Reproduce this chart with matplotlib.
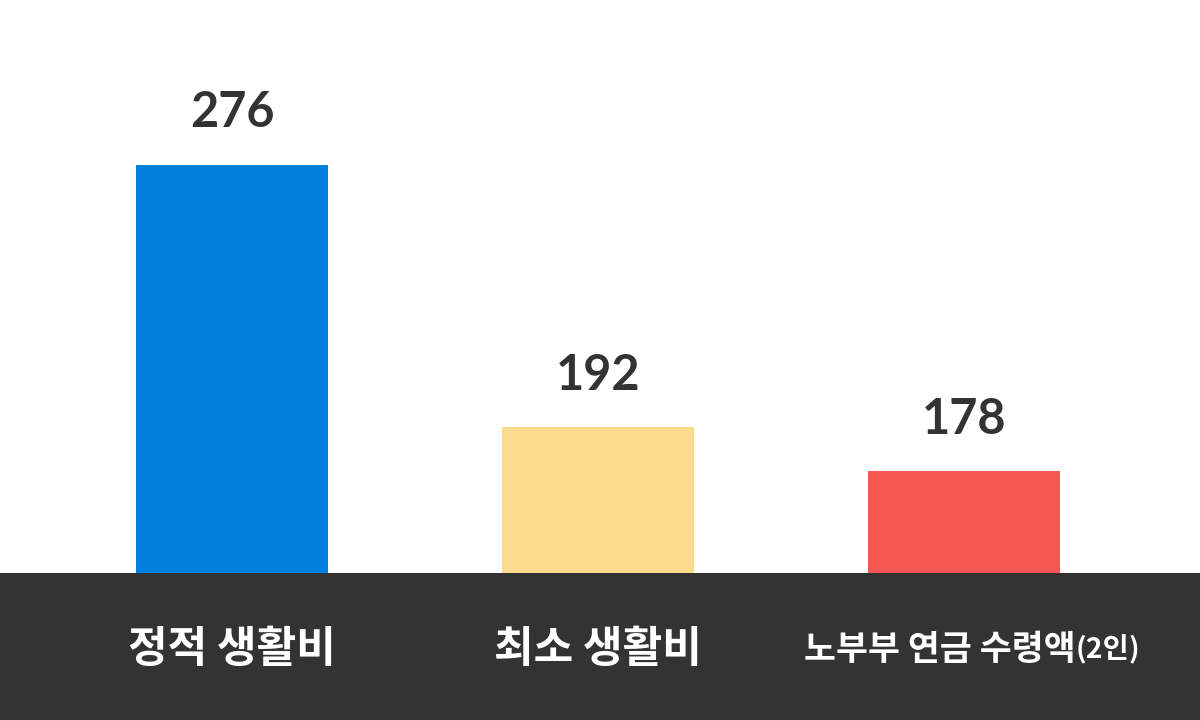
import matplotlib.pyplot as plt
from matplotlib.patches import Rectangle

### données

categories = ['정적 생활비', '최소 생활비', '노부부 연금 수령액']
suffixes = ['', '', '(2인)']
valeurs = [276, 192, 178]
couleurs = ['#0080DE', '#FCDB8F', '#F55753']

### figure

fig = plt.figure(figsize=(12, 7.2), dpi=100)
fig.patch.set_facecolor('white')
bas = 1 - 573 / 720
ax = fig.add_axes([0, bas, 1, 1 - bas])
ax.set_facecolor('white')

x = range(len(valeurs))
ax.bar(x, valeurs, width=0.527, color=couleurs, bottom=0)
ax.set_xlim(-0.634, 2.645)
ax.set_ylim(145.5, 328.6)
ax.axis('off')

for xi, v in zip(x, valeurs):
    ax.annotate(str(v), (xi, v), xytext=(0, 27), textcoords='offset points',
                ha='center', va='baseline', fontsize=35, fontweight='bold',
                family=['Lato', 'DejaVu Sans'], color='#333333')

# bandeau sombre en bas
fig.patches.append(Rectangle((0, 0), 1, bas, transform=fig.transFigure,
                             facecolor='#333333', edgecolor='none', zorder=0))

# étiquettes des catégories
fam = ['Noto Sans CJK KR', 'DejaVu Sans']
fig.canvas.draw()
renderer = fig.canvas.get_renderer()
for xi, cat, suf in zip(x, categories, suffixes):
    xc = ax.transData.transform((xi, 0))[0] / 1200
    if suf == '':
        fig.text(xc, 0.098, cat, ha='center', va='center', fontsize=31,
                 fontweight='black', family=fam, color='white')
    else:
        t1 = fig.text(0, 0.098, cat, ha='left', va='center', fontsize=25,
                      fontweight='black', family=fam, color='white')
        t2 = fig.text(0, 0.098, suf, ha='left', va='center', fontsize=20.5,
                      fontweight='bold', family=fam, color='white')
        w1 = t1.get_window_extent(renderer).width / 1200
        w2 = t2.get_window_extent(renderer).width / 1200
        debut = xc + 8 / 1200 - (w1 + w2) / 2   # légèrement décalé à droite
        t1.set_x(debut)
        t2.set_x(debut + w1)

fig.savefig('out.png', dpi=100, facecolor=fig.get_facecolor())
